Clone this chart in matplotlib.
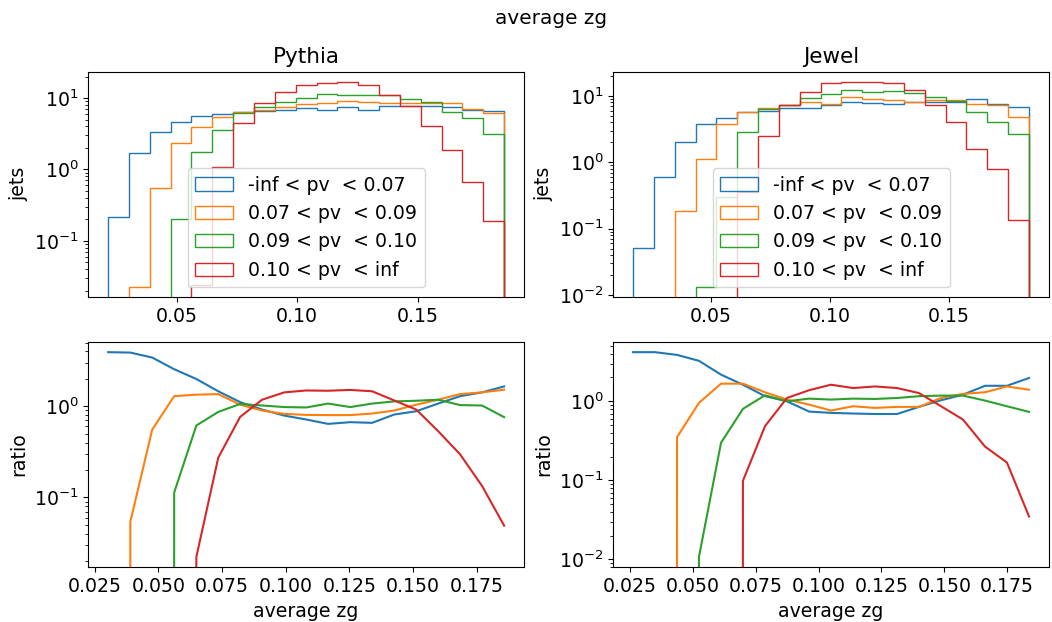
import matplotlib
matplotlib.use("Agg")
import matplotlib.pyplot as plt
from matplotlib.ticker import MultipleLocator
import numpy as np

plt.rcParams['font.size'] = 13.6

labels = ['-inf < pv  < 0.07', '0.07 < pv  < 0.09',
          '0.09 < pv  < 0.10', '0.10 < pv  < inf']

# bin edges of average zg
edges_pythia = [0.0217, 0.0303, 0.0390, 0.0476, 0.0562, 0.0649, 0.0735, 0.0821,
                0.0907, 0.0994, 0.1080, 0.1166, 0.1253, 0.1339, 0.1425, 0.1512,
                0.1598, 0.1684, 0.1770, 0.1857]
edges_jewel = [0.0174, 0.0262, 0.0349, 0.0437, 0.0524, 0.0612, 0.0699, 0.0787,
               0.0874, 0.0962, 0.1049, 0.1137, 0.1224, 0.1312, 0.1399, 0.1487,
               0.1574, 0.1662, 0.1749, 0.1837]

# jets per bin, one list per pv class
pythia_jets = [
    [0.212, 1.71, 3.32, 4.68, 5.55, 6.04, 6.38, 6.52, 6.87, 7.18,
     6.87, 7.49, 6.73, 7.82, 7.65, 7.65, 7.6, 6.9, 6.5],
    [0, 0.0228, 0.543, 2.33, 3.90, 5.43, 6.31, 6.87, 7.4, 8.25,
     8.6, 9.1, 8.8, 8.5, 8.5, 8.5, 8.5, 7.1, 6.18],
    [0, 0, 0, 0.205, 1.78, 3.54, 6.18, 7.49, 8.7, 10.0,
     11.4, 11.1, 10.9, 10.9, 9.7, 8.8, 6.38, 5.2, 3.11],
    [0, 0, 0, 0, 0.024, 1.09, 4.48, 8.5, 12.2, 15.4,
     16.2, 16.9, 15.2, 11.0, 7.65, 4.03, 1.86, 0.665, 0.192],
]
jewel_jets = [
    [0.0504, 0.61, 1.99, 3.74, 4.72, 5.74, 5.94, 6.67, 6.5, 7.33,
     8.13, 7.76, 7.5, 8.2, 8.1, 8.1, 9.1, 7.5, 6.9],
    [0, 0, 0.186, 1.11, 3.84, 5.81, 6.5, 7.24, 8.1, 7.67,
     9.66, 9.1, 8.7, 8.2, 8.6, 8.7, 7.5, 7.24, 4.89],
    [0, 0, 0, 0.0133, 0.3, 2.87, 6.3, 7.24, 9.33, 10.6,
     12.3, 11.6, 11.9, 11.2, 9.8, 8.3, 5.74, 4.06, 2.71],
    [0, 0, 0, 0, 0, 0.35, 2.5, 7.3, 11.6, 15.9,
     16.4, 16.4, 15.5, 12.3, 7.3, 4.06, 1.57, 0.805, 0.133],
]

# ratio per bin
pythia_ratio = [
    [3.92, 3.88, 3.42, 2.55, 1.99, 1.46, 1.11, 0.92, 0.79, 0.716,
     0.641, 0.669, 0.658, 0.811, 0.882, 1.07, 1.29, 1.42, 1.65],
    [0, 0.0543, 0.556, 1.29, 1.34, 1.36, 1.04, 0.897, 0.825, 0.804,
     0.80, 0.80, 0.832, 0.897, 1.04, 1.18, 1.36, 1.42, 1.52],
    [0, 0, 0, 0.113, 0.615, 0.867, 1.06, 1.02, 0.98, 0.97,
     1.07, 0.98, 1.07, 1.13, 1.15, 1.18, 1.03, 1.02, 0.759],
    [0, 0, 0, 0, 0.0222, 0.273, 0.765, 1.18, 1.42, 1.49,
     1.48, 1.51, 1.46, 1.16, 0.92, 0.533, 0.297, 0.134, 0.049],
]
jewel_ratio = [
    [4.18, 4.18, 3.86, 3.25, 2.17, 1.62, 1.16, 1.0, 0.741, 0.713,
     0.70, 0.69, 0.69, 0.849, 1.03, 1.21, 1.57, 1.57, 1.97],
    [0, 0, 0.352, 0.953, 1.67, 1.67, 1.30, 1.05, 0.908, 0.763,
     0.865, 0.824, 0.849, 0.849, 1.10, 1.24, 1.30, 1.54, 1.40],
    [0, 0, 0, 0.0107, 0.299, 0.801, 1.19, 1.0, 1.08, 1.05,
     1.08, 1.07, 1.10, 1.16, 1.18, 1.18, 1.02, 0.865, 0.734],
    [0, 0, 0, 0, 0, 0.0986, 0.485, 1.10, 1.38, 1.62,
     1.47, 1.54, 1.47, 1.27, 0.865, 0.588, 0.267, 0.168, 0.0348],
]

fig, axs = plt.subplots(2, 2, figsize=(10.52, 6.22), dpi=100)
fig.subplots_adjust(left=0.084, right=0.997, top=0.885, bottom=0.088,
                    wspace=0.205, hspace=0.2)
fig.suptitle('average zg', fontsize=14.4, x=0.524, y=0.985)

samples = [('Pythia', edges_pythia, pythia_jets, pythia_ratio),
           ('Jewel', edges_jewel, jewel_jets, jewel_ratio)]

for col, (name, edges, jets, ratio) in enumerate(samples):
    edges = np.array(edges)
    ax = axs[0, col]
    for vals, lab in zip(jets, labels):
        ax.hist(edges[:-1], bins=edges, weights=vals, histtype='step',
                log=True, label=lab)
    ax.xaxis.set_major_locator(MultipleLocator(0.05))
    ax.set_title(name, fontsize=15.5)
    ax.set_ylabel('jets')
    ax.legend(loc='lower center')

    ax = axs[1, col]
    for vals in ratio:
        ax.plot(edges[1:], vals)
    ax.set_yscale('log')
    ax.set_ylabel('ratio')
    ax.set_xlabel('average zg')

fig.savefig('out.png')
